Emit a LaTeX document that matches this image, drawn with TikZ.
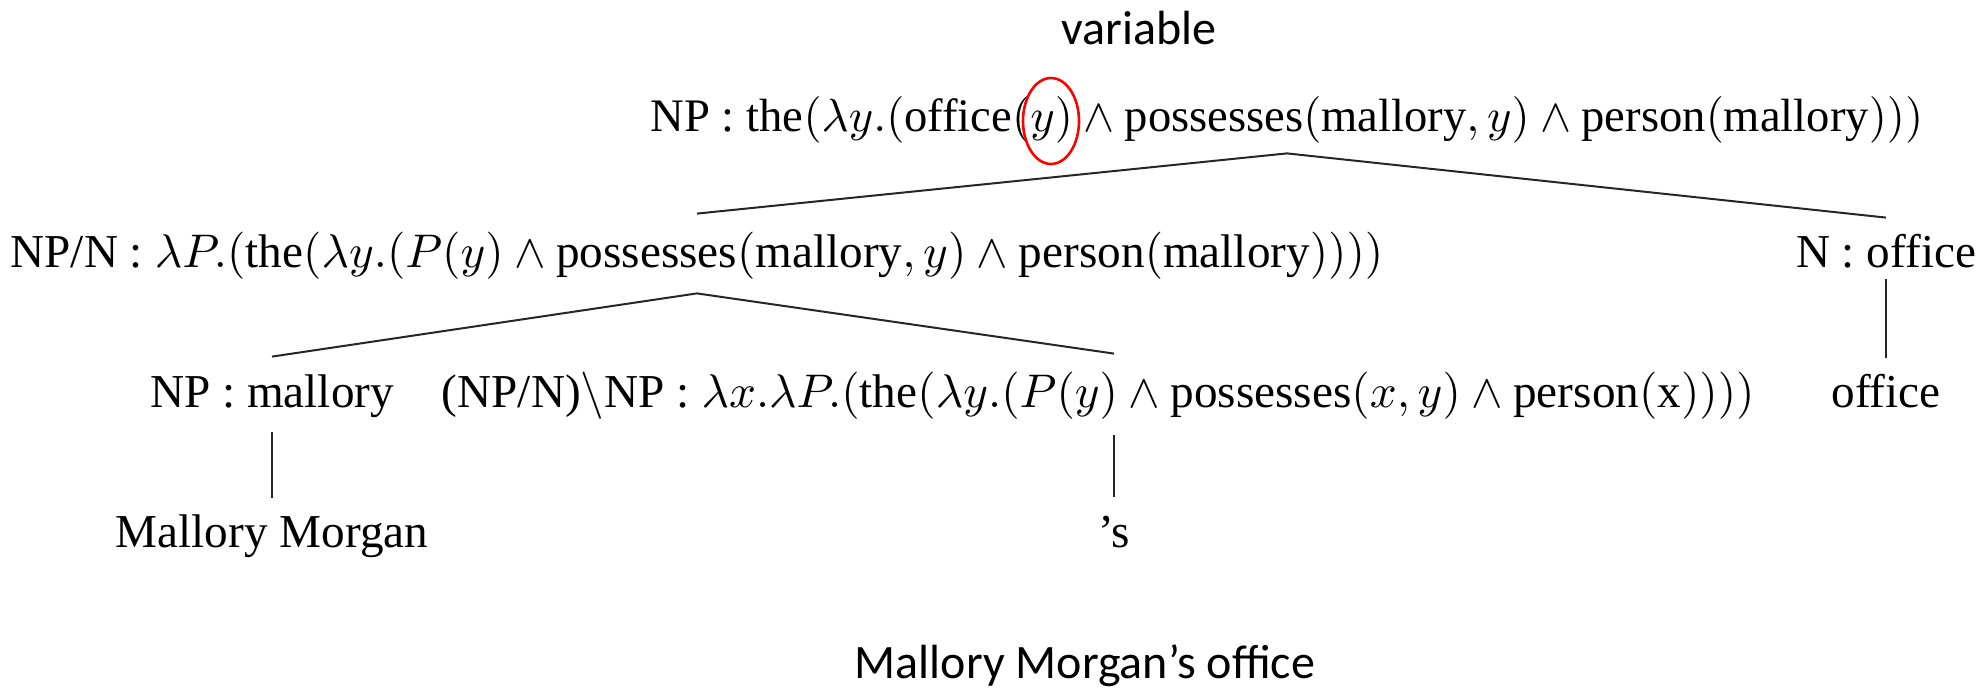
\documentclass[tikz,border=0pt]{standalone}
\usepackage{amsmath}
\usepackage[no-math]{fontspec}
\setmainfont{Liberation Serif}
\newfontfamily\calib{Carlito}
\DeclareFontShape{OML}{cmm}{m}{it}{<->cmmi10}{}
\DeclareFontShape{OMS}{cmsy}{m}{n}{<->cmsy10}{}
\DeclareFontShape{OT1}{cmr}{m}{n}{<->cmr10}{}
\DeclareFontShape{OMX}{cmex}{m}{n}{<->cmex10}{}
\tikzset{
  lbl/.style={inner sep=0pt, text height=16pt, text depth=6pt, font=\fontsize{23.6}{28}\selectfont},
  toplbl/.style={lbl, font=\fontsize{23.3}{28}\selectfont},
  sanslbl/.style={inner sep=0pt, font=\calib\fontsize{24}{29}\selectfont},
  edge/.style={line width=1pt, black!85},
  redring/.style={draw=red, line width=1.3pt}
}
\begin{document}
\begin{tikzpicture}[x=0.5pt,y=-0.5pt]
\useasboundingbox (0,0) rectangle (1987,690);
% labels
\node[sanslbl, anchor=base] (var) at (1139,45) {variable};
\node[toplbl, anchor=base] (root) at (1287,132) {NP : the$(\lambda y.(\text{office}(y)\wedge\text{possesses}(\text{mallory},y)\wedge\text{person}(\text{mallory})))$};
\node[lbl, anchor=base] (npn) at (697,267) {NP/N : $\lambda P.(\text{the}(\lambda y.(P(y)\wedge\text{possesses}(\text{mallory},y)\wedge\text{person}(\text{mallory}))))$};
\node[lbl, anchor=base] (n) at (1886,267) {N : office};
\node[lbl, anchor=base] (mal) at (272,407) {NP : mallory};
\node[lbl, anchor=base east] (poss) at (1755,407) {(NP/N)$\backslash$NP : $\lambda x.\lambda P.(\text{the}(\lambda y.(P(y)\wedge\text{possesses}(x,y)\wedge\text{person}(\text{x}))))$};
\node[lbl, anchor=base] (off) at (1886,407) {office};
\node[lbl, anchor=base] (mm) at (272,547) {Mallory Morgan};
\node[lbl, anchor=base] (s) at (1114,547) {'s};
\node[sanslbl, anchor=base] (cap) at (1085,678) {Mallory Morgan’s office};
% highlight of the variable
\draw[redring] (1051,121) ellipse [x radius=28, y radius=43];
% tree edges
\draw[edge] ([yshift=-4.5pt]root.south) -- ([yshift=10.5pt]npn.north);
\draw[edge] ([yshift=-4.5pt]root.south) -- ([yshift=8.5pt]n.north);
\draw[edge] (n.south) -- ([yshift=8.5pt]off.north);
\draw[edge] ([yshift=-7pt]npn.south) -- ([yshift=9pt]mal.north);
\draw[edge] ([yshift=-7pt]npn.south) -- ([yshift=10.5pt]s.north |- poss.north);
\draw[edge] ([yshift=-6.5pt]mal.south) -- ([yshift=8.5pt]mm.north);
\draw[edge] ([yshift=-8pt]s.south |- poss.south) -- ([yshift=9pt]s.north);
\end{tikzpicture}
\end{document}
